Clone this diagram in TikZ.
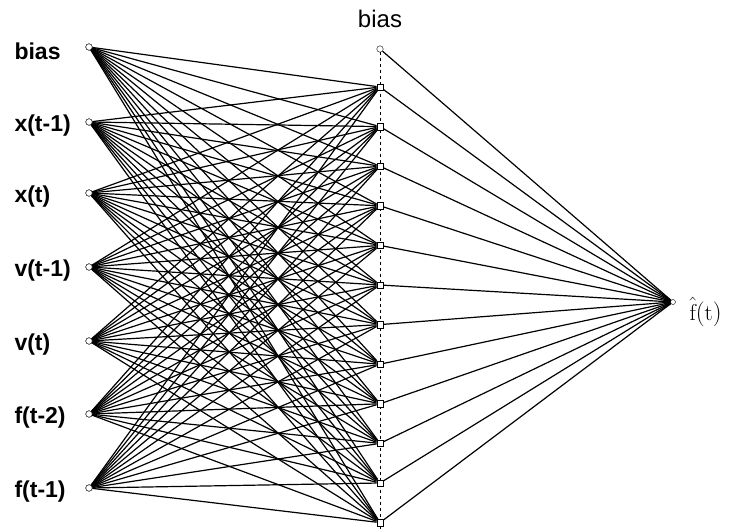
\documentclass[tikz,border=0pt]{standalone}
\usepackage{amsmath}
\usepackage{fontspec}
\setsansfont{Liberation Sans}
\usepackage{tikz}

\begin{document}
\begin{tikzpicture}[x=1pt,y=-1pt,
        inunit/.style={circle,draw,fill=white,inner sep=0pt,minimum size=6.5pt},
        hidunit/.style={rectangle,draw,fill=white,inner sep=0pt,minimum size=6.5pt},
        lbl/.style={font=\sffamily\bfseries\fontsize{23}{23}\selectfont},
        link/.style={line width=1.2pt}]
            \useasboundingbox (0,0) rectangle (731,532);

            % Input units
            \foreach \i/\y in {0/47,1/122,2/193,3/267,4/341,5/414,6/488}
                \node[inunit] (in\i) at (89,\y) {};
            \foreach \i/\label in {0/bias,1/x(t-1),2/x(t),3/v(t-1),4/v(t),5/f(t-2),6/f(t-1)}
                \node[lbl,anchor=west] (lab\i) at ([shift={(-78,4)}]in\i.center) {\label};

            % Hidden units
            \node[inunit] (hb) at (380,49) {};
            \node[font=\sffamily\fontsize{24}{24}\selectfont] (labhb) at (380,19) {bias};
            \foreach \j in {1,...,12}
                \node[hidunit] (h\j) at (380,{87+(\j-1)*39.6}) {};
            \coordinate (dashend) at (380,531);
            \draw[dashed,line width=0.7pt] (hb) -- (dashend);

            % Output unit
            \node[inunit,minimum size=5pt] (out) at (673,302) {};
            \node[anchor=west,font=\fontsize{23}{23}\selectfont] (labout) at ([shift={(13,10)}]out.center) {$\hat{\mathrm{f}}(\mathrm{t})$};

            % Input to hidden
            \foreach \i in {0,...,6}
                \foreach \j in {1,...,12}
                    \draw[link] (in\i) -- (h\j);

            % Hidden to output
            \draw[link] (hb) -- (out);
            \foreach \j in {1,...,12}
                \draw[link] (h\j) -- (out);

            % redraw units on top
            \foreach \i in {0,...,6}
                \node[inunit] at (in\i) {};
            \foreach \j in {1,...,12}
                \node[hidunit] at (h\j) {};
        \end{tikzpicture}
\end{document}
